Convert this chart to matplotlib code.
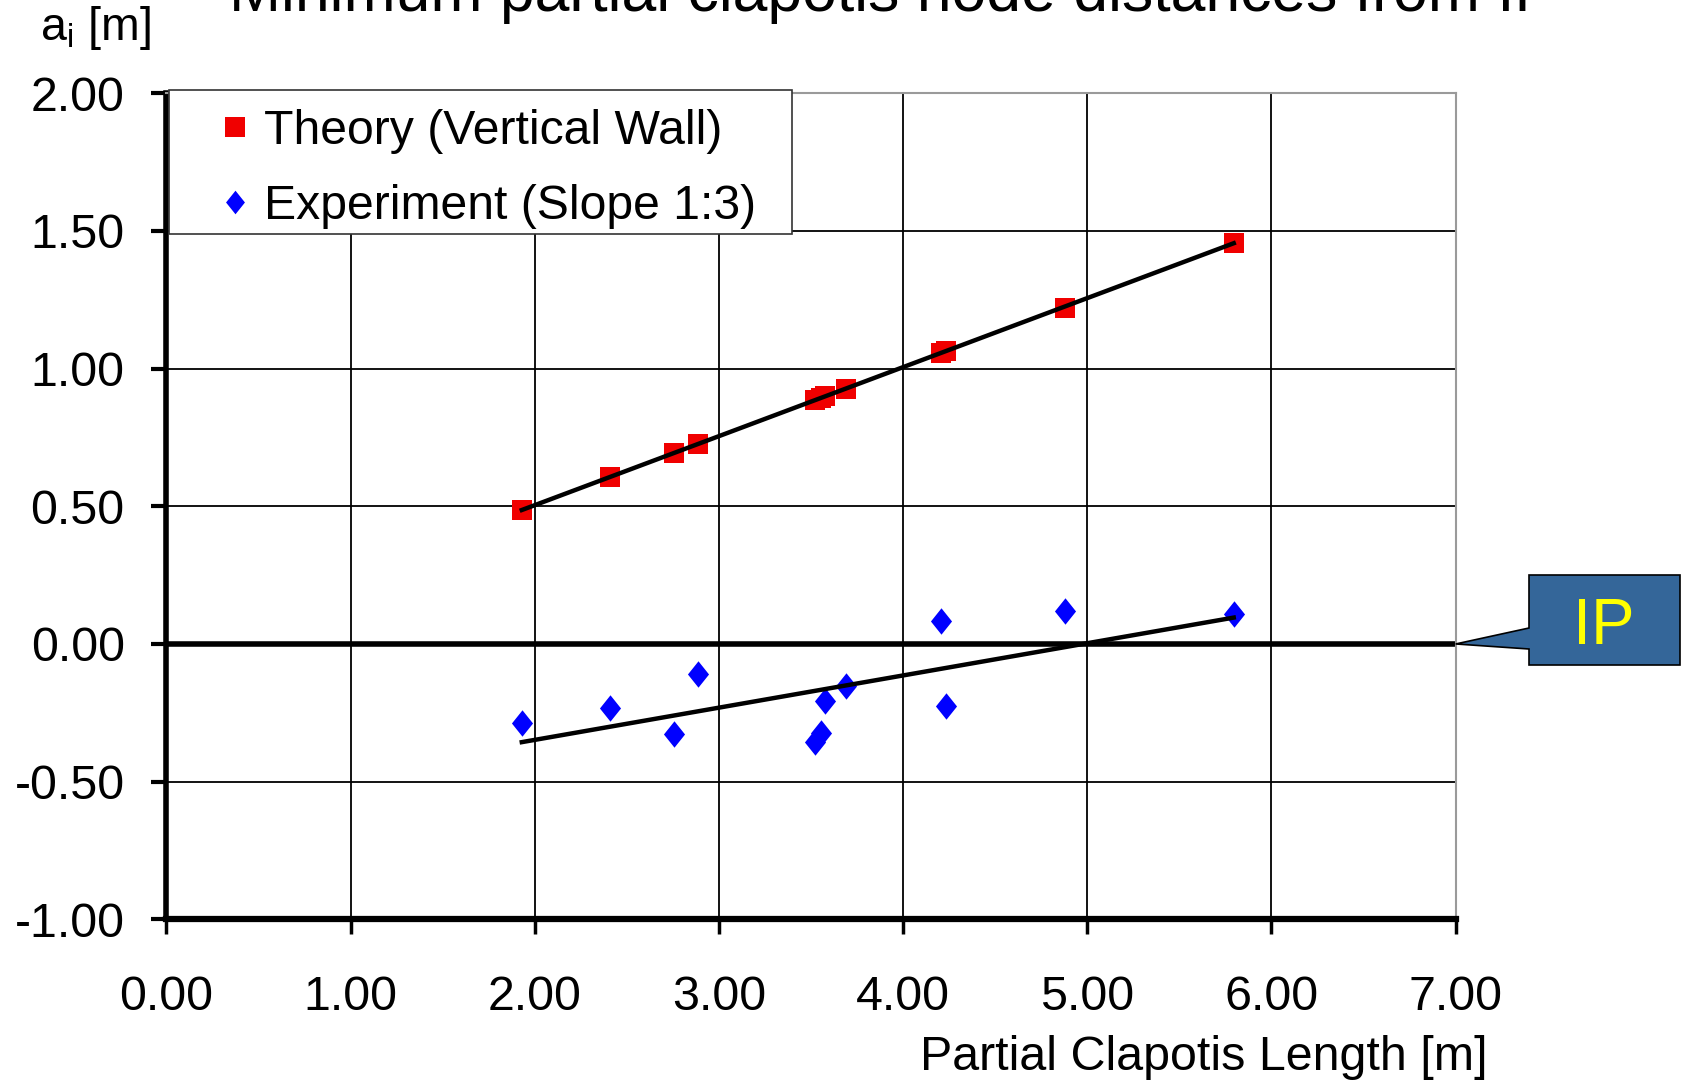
import numpy as np
import matplotlib
matplotlib.use("Agg")
import matplotlib.pyplot as plt
from matplotlib.patches import Rectangle, Polygon
from matplotlib.lines import Line2D

plt.rcParams['font.family'] = ['Liberation Sans', 'DejaVu Sans']
plt.rcParams['mathtext.fontset'] = 'custom'
plt.rcParams['mathtext.rm'] = 'Liberation Sans'

# ---- data ----
clapotis_length = [1.93, 2.41, 2.755, 2.885, 3.52, 3.555, 3.575, 3.69, 4.205, 4.235, 4.88, 5.795]
theory_vertical_wall = [0.488, 0.606, 0.692, 0.726, 0.887, 0.894, 0.899, 0.927, 1.058, 1.064, 1.222, 1.458]
experiment_slope13 = [-0.288, -0.232, -0.326, -0.110, -0.355, -0.325, -0.206, -0.153, 0.085, -0.224, 0.120, 0.108]

x_ticks = [0, 1, 2, 3, 4, 5, 6, 7]
y_ticks = [-1.0, -0.5, 0.0, 0.5, 1.0, 1.5, 2.0]
title = "Minimum partial clapotis node distances from IP"
legend_labels = ["Theory (Vertical Wall)", "Experiment (Slope 1:3)"]

W, H = 1682, 1088
fig = plt.figure(figsize=(W / 100, H / 100), dpi=100)

def fx(px):
    return px / W

def fy(py):
    return 1 - py / H

ax = fig.add_axes([fx(166.3), fy(919.3), fx(1455.7) - fx(166.3), fy(93.3) - fy(919.3)])

ax.set_xlim(0, 7)
ax.set_ylim(-1, 2)
ax.set_xticks(x_ticks)
ax.set_yticks(y_ticks)
ax.set_xticklabels([f"{v:.2f}" for v in x_ticks])
ax.set_yticklabels([f"{v:.2f}" for v in y_ticks])

ax.grid(True, color='black', linewidth=1.3, zorder=0)
ax.set_axisbelow(True)
# right boundary is grey, no black grid line at x=7
ax.xaxis.get_gridlines()[-1].set_visible(False)

for s in ['left', 'bottom']:
    ax.spines[s].set_color('black')
ax.spines['left'].set_linewidth(4)
ax.spines['bottom'].set_linewidth(4.5)
for s in ['top', 'right']:
    ax.spines[s].set_linewidth(1.5)
    ax.spines[s].set_color('#9a9a9a')

ax.tick_params(axis='x', direction='out', length=11, width=2.5, labelsize=34.8, pad=29)
ax.tick_params(axis='y', direction='out', length=11, width=3, labelsize=34.8, pad=19)

ax.axhline(0, color='black', linewidth=4, zorder=2)

x = np.array(clapotis_length)
yt = np.array(theory_vertical_wall)
ye = np.array(experiment_slope13)

# linear trend lines
xl = np.array([x.min(), x.max()])
pt = np.polyfit(x, yt, 1)
pe = np.polyfit(x, ye, 1)
ax.plot(xl, np.polyval(pt, xl), color='black', linewidth=3.2, zorder=4)
ax.plot(xl, np.polyval(pe, xl), color='black', linewidth=3.2, zorder=4)

ax.plot(x, yt, linestyle='none', marker='s', markersize=14.5, color='#f00000',
        markeredgewidth=0, zorder=3)
diamond = [(0, 1), (0.8, 0), (0, -1), (-0.8, 0)]
ax.plot(x, ye, linestyle='none', marker=diamond, markersize=19, color='#0000ff',
        markeredgewidth=0, zorder=3)

# legend box
fig.add_artist(Rectangle((fx(169), fy(234)), fx(792) - fx(169), fy(90) - fy(234),
                         transform=fig.transFigure, facecolor='white',
                         edgecolor='#333333', linewidth=1.2, zorder=5))
handles = [Line2D([], [], linestyle='none', marker='s', markersize=14, color='#f00000', markeredgewidth=0),
           Line2D([], [], linestyle='none', marker=diamond, markersize=17, color='#0000ff', markeredgewidth=0)]
leg = fig.legend(handles, legend_labels, loc='upper left',
                 bbox_to_anchor=(fx(215), fy(109)), bbox_transform=fig.transFigure,
                 frameon=False, fontsize=34.7, borderpad=0, borderaxespad=0,
                 handlelength=0.82, handletextpad=0.2, labelspacing=0.62)
leg.set_zorder(6)

# title (cut off at the top, as in the source image)
fig.text(fx(893), fy(11), title, ha='center', va='baseline', fontsize=45)

# axis labels
fig.text(fx(40), fy(40), r'a$_\mathregular{i}$ [m]', ha='left', va='baseline', fontsize=33.5)
fig.text(fx(1488), fy(1070), 'Partial Clapotis Length [m]', ha='right', va='baseline', fontsize=34.8)

# IP callout
tip = fig.transFigure.inverted().transform(ax.transData.transform((7, 0)))
callout = Polygon([(fx(1529), fy(575)), (fx(1680), fy(575)), (fx(1680), fy(665)),
                   (fx(1529), fy(665)), (fx(1529), fy(649)), (tip[0], tip[1]),
                   (fx(1529), fy(628))], closed=True, transform=fig.transFigure,
                  facecolor='#346699', edgecolor='black', linewidth=1.2, zorder=5)
fig.add_artist(callout)
fig.text(fx(1604), fy(627), 'IP', ha='center', va='center', fontsize=47,
         color='#ffff00', zorder=6)

fig.savefig('out.png', dpi=100)
